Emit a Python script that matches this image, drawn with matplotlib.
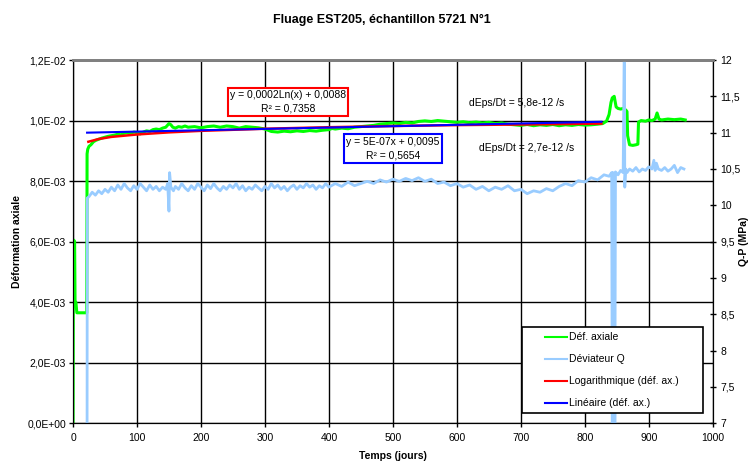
import numpy as np
import matplotlib
matplotlib.use("Agg")
import matplotlib.pyplot as plt
from matplotlib.ticker import FuncFormatter, MultipleLocator
from matplotlib.legend_handler import HandlerLine2D

plt.rcParams['font.family'] = ['Liberation Sans', 'DejaVu Sans']

# axial strain (x1e-3)
def_days = [0, 0.6, 1.2, 2.5, 3.2, 4.5, 6, 10, 15, 20, 21.5,
            22, 23, 25, 28, 32, 36, 40, 45, 50, 55,
            60, 65, 70, 75, 80, 85, 90, 95, 100, 105,
            110, 115, 120, 125, 130, 135, 140, 145, 150, 153,
            156, 160, 165, 170, 175, 180, 190, 200, 210, 220,
            230, 240, 250, 260, 270, 280, 290, 300, 305, 310,
            320, 330, 340, 350, 360, 370, 380, 390, 400, 405,
            410, 420, 430, 440, 450, 460, 470, 480, 490, 500,
            510, 520, 530, 540, 550, 560, 570, 580, 590, 600,
            610, 620, 630, 640, 650, 660, 670, 680, 690, 700,
            710, 720, 730, 740, 750, 760, 770, 780, 790, 800,
            810, 820, 828, 834, 838, 841, 843, 846, 849, 852,
            856, 860, 864, 866, 867, 870, 875, 880, 883, 884,
            888, 895, 900, 905, 910, 913, 916, 920, 930, 940,
            950, 957]
def_axiale = [0.0, 6.0, 6.05, 6.0, 4.0, 4.0, 3.65, 3.65, 3.65, 3.65, 3.65,
              8.9, 9.05, 9.15, 9.2, 9.3, 9.35, 9.38, 9.42, 9.45, 9.48,
              9.5, 9.52, 9.55, 9.53, 9.58, 9.6, 9.57, 9.62, 9.6, 9.56,
              9.62, 9.66, 9.64, 9.7, 9.72, 9.7, 9.75, 9.78, 9.9, 9.86,
              9.78, 9.75, 9.8, 9.78, 9.82, 9.78, 9.8, 9.76, 9.8, 9.82,
              9.78, 9.82, 9.8, 9.75, 9.8, 9.78, 9.76, 9.72, 9.68, 9.64,
              9.62, 9.65, 9.63, 9.66, 9.64, 9.67, 9.65, 9.68, 9.7, 9.74,
              9.72, 9.75, 9.73, 9.78, 9.8, 9.82, 9.84, 9.88, 9.9, 9.92,
              9.9, 9.94, 9.92, 9.97, 9.99, 9.97, 10.0, 9.98, 9.96, 9.94,
              9.96, 9.93, 9.95, 9.92, 9.94, 9.9, 9.92, 9.88, 9.86, 9.84,
              9.87, 9.83, 9.86, 9.84, 9.87, 9.83, 9.86, 9.84, 9.87, 9.85,
              9.86, 9.88, 9.9, 9.98, 10.2, 10.6, 10.75, 10.8, 10.45, 10.4,
              10.38, 10.4, 10.35, 10.3, 9.5, 9.2, 9.18, 9.2, 9.22, 9.95,
              10.0, 9.98, 10.02, 10.0, 10.05, 10.25, 10.05, 10.02, 10.05, 10.03,
              10.05, 10.02]

# deviator Q (MPa)
q_days = [22, 22.3, 25, 30, 35, 40, 45, 50, 55, 60,
          65, 70, 75, 80, 85, 90, 95, 100, 105, 110,
          115, 120, 125, 130, 135, 140, 145, 148, 150, 151,
          153, 157, 160, 165, 170, 175, 180, 185, 190, 195,
          200, 205, 210, 215, 220, 225, 230, 235, 240, 245,
          250, 255, 260, 265, 270, 275, 280, 285, 290, 295,
          300, 305, 310, 315, 320, 325, 330, 335, 340, 345,
          350, 355, 360, 365, 370, 375, 380, 385, 390, 395,
          400, 410, 420, 430, 440, 450, 460, 470, 480, 490,
          500, 510, 520, 530, 540, 550, 560, 570, 580, 590,
          600, 610, 620, 630, 640, 650, 660, 670, 680, 690,
          700, 710, 720, 730, 740, 750, 760, 770, 780, 790,
          800, 810, 820, 830, 838, 842, 843, 844, 846, 847,
          848, 852, 856, 860, 862, 862.5, 864, 866, 870, 875,
          880, 885, 890, 895, 900, 905, 908, 910, 912, 915,
          920, 925, 930, 935, 940, 945, 950, 955]
q_dev = [7.0, 10.1, 10.12, 10.18, 10.14, 10.2, 10.16, 10.22, 10.18, 10.25,
         10.2, 10.28, 10.22, 10.3, 10.24, 10.2, 10.27, 10.22, 10.3, 10.25,
         10.2, 10.28, 10.22, 10.26, 10.2, 10.25, 10.22, 10.3, 9.92, 10.45,
         10.25, 10.2, 10.26, 10.22, 10.3, 10.24, 10.2, 10.27, 10.22, 10.3,
         10.25, 10.2, 10.28, 10.23, 10.3, 10.24, 10.2, 10.26, 10.22, 10.28,
         10.24, 10.3, 10.22, 10.27, 10.2, 10.25, 10.22, 10.28, 10.24, 10.2,
         10.26, 10.22, 10.3, 10.24, 10.28, 10.22, 10.26, 10.2, 10.25, 10.28,
         10.22, 10.27, 10.24, 10.3, 10.25, 10.28, 10.22, 10.27, 10.24, 10.3,
         10.25, 10.3, 10.26, 10.32, 10.27, 10.3, 10.33, 10.3, 10.35, 10.32,
         10.36, 10.33, 10.37, 10.34, 10.38, 10.33, 10.36, 10.3, 10.32, 10.27,
         10.3, 10.25, 10.28, 10.22, 10.26, 10.2, 10.25, 10.22, 10.27, 10.2,
         10.22, 10.16, 10.2, 10.18, 10.23, 10.2, 10.26, 10.3, 10.27, 10.34,
         10.32, 10.38, 10.35, 10.42, 10.4, 10.45, 7.0, 10.45, 10.44, 7.0,
         10.46, 10.42, 10.48, 10.45, 12.5, 10.25, 10.5, 10.45, 10.5, 10.47,
         10.52, 10.46, 10.5, 10.48, 10.53, 10.5, 10.62, 10.48, 10.58, 10.5,
         10.48, 10.52, 10.47, 10.5, 10.55, 10.45, 10.52, 10.5]

# trend lines (x1e-3)
log_days = [24, 40, 60, 100, 150, 200, 300, 400, 500, 600, 700, 826]
log_fit = [9.30, 9.39, 9.46, 9.54, 9.61, 9.66, 9.73, 9.78, 9.82, 9.85, 9.87, 9.90]
lin_days = [22, 826]
lin_fit = [9.60, 9.96]

fig = plt.figure(figsize=(7.55, 4.62), dpi=100)
ax = fig.add_axes([0.0967, 0.0838, 0.8473, 0.7863])
ax2 = ax.twinx()

l1, = ax.plot(def_days, np.array(def_axiale) * 1e-3, color='#00ff00', lw=2.2, label='Déf. axiale', zorder=3)
l3, = ax.plot(log_days, np.array(log_fit) * 1e-3, color='#ff0000', lw=1.8, label='Logarithmique (déf. ax.)', zorder=4)
l4, = ax.plot(lin_days, np.array(lin_fit) * 1e-3, color='#0000ff', lw=1.5, label='Linéaire (déf. ax.)', zorder=5)
l2, = ax2.plot(q_days, q_dev, color='#99ccff', lw=2.0, label='Déviateur Q')

ax.set_xlim(0, 1000)
ax.set_ylim(0, 0.012)
ax2.set_ylim(7, 12)
ax.xaxis.set_major_locator(MultipleLocator(100))
ax.yaxis.set_major_locator(MultipleLocator(0.002))
ax2.yaxis.set_major_locator(MultipleLocator(0.5))
ax.yaxis.set_major_formatter(FuncFormatter(lambda v, p: f"{v:.1E}".replace('.', ',')))
ax2.yaxis.set_major_formatter(FuncFormatter(lambda v, p: f"{v:g}".replace('.', ',')))

ax.grid(True, color='black', lw=1)
ax.set_axisbelow(True)
for s in ['left', 'bottom', 'right']:
    ax.spines[s].set_color('black')
    ax2.spines[s].set_color('black')
ax.spines['top'].set_color('#808080')
ax.spines['top'].set_linewidth(2)
ax2.spines['top'].set_color('#808080')
ax2.spines['top'].set_linewidth(2)

ax.tick_params(axis='both', labelsize=7.5, length=3, width=1, direction='out')
ax.tick_params(axis='x', pad=4)
ax.tick_params(axis='y', pad=2)
ax2.tick_params(axis='y', labelsize=7.5, length=5, width=1, direction='inout', pad=3)

ax.set_xlabel('Temps (jours)', fontsize=7.5, fontweight='bold', labelpad=6)
ax.set_ylabel('Déformation axiale', fontsize=7.5, fontweight='bold', labelpad=4)
# right axis label sits against the figure edge
fig.text(0.985, 0.477, 'Q-P (MPa)', fontsize=7.5, fontweight='bold', rotation=90,
         ha='center', va='center')
fig.text(0.506, 0.957, 'Fluage EST205, échantillon 5721 N°1', fontsize=9, fontweight='bold',
         ha='center', va='center')

ax.text(336, 0.01061, 'y = 0,0002Ln(x) + 0,0088\nR² = 0,7358', fontsize=7.5, ha='center', va='center',
        linespacing=1.45, zorder=6,
        bbox=dict(boxstyle='square,pad=0.2', fc='white', ec='#ff0000', lw=1.5))
ax.text(500, 0.00908, 'y = 5E-07x + 0,0095\nR² = 0,5654', fontsize=7.5, ha='center', va='center',
        linespacing=1.45, zorder=6,
        bbox=dict(boxstyle='square,pad=0.25', fc='white', ec='#0000ff', lw=1.5))
ax.text(693, 0.01057, 'dEps/Dt = 5,8e-12 /s', fontsize=7.5, ha='center', va='center', zorder=6)
ax.text(709, 0.00911, 'dEps/Dt = 2,7e-12 /s', fontsize=7.5, ha='center', va='center', zorder=6)

leg = ax2.legend(handles=[l1, l2, l3, l4], loc='upper left',
                 bbox_to_anchor=(522 / 755, 1 - 415 / 462, 181 / 755, 88 / 462),
                 bbox_transform=fig.transFigure, mode='expand',
                 fontsize=7.5, frameon=True, fancybox=False, framealpha=1,
                 edgecolor='black', labelspacing=1.15, handlelength=3.8,
                 handletextpad=0.2, borderpad=0.5, borderaxespad=0,
                 handler_map={l: HandlerLine2D(xpad=1.7) for l in [l1, l2, l3, l4]})
leg.get_frame().set_linewidth(1.2)
for h in leg.get_lines():
    h.set_linewidth(1.5)
leg.set_zorder(10)

fig.savefig('out.png', dpi=100)
